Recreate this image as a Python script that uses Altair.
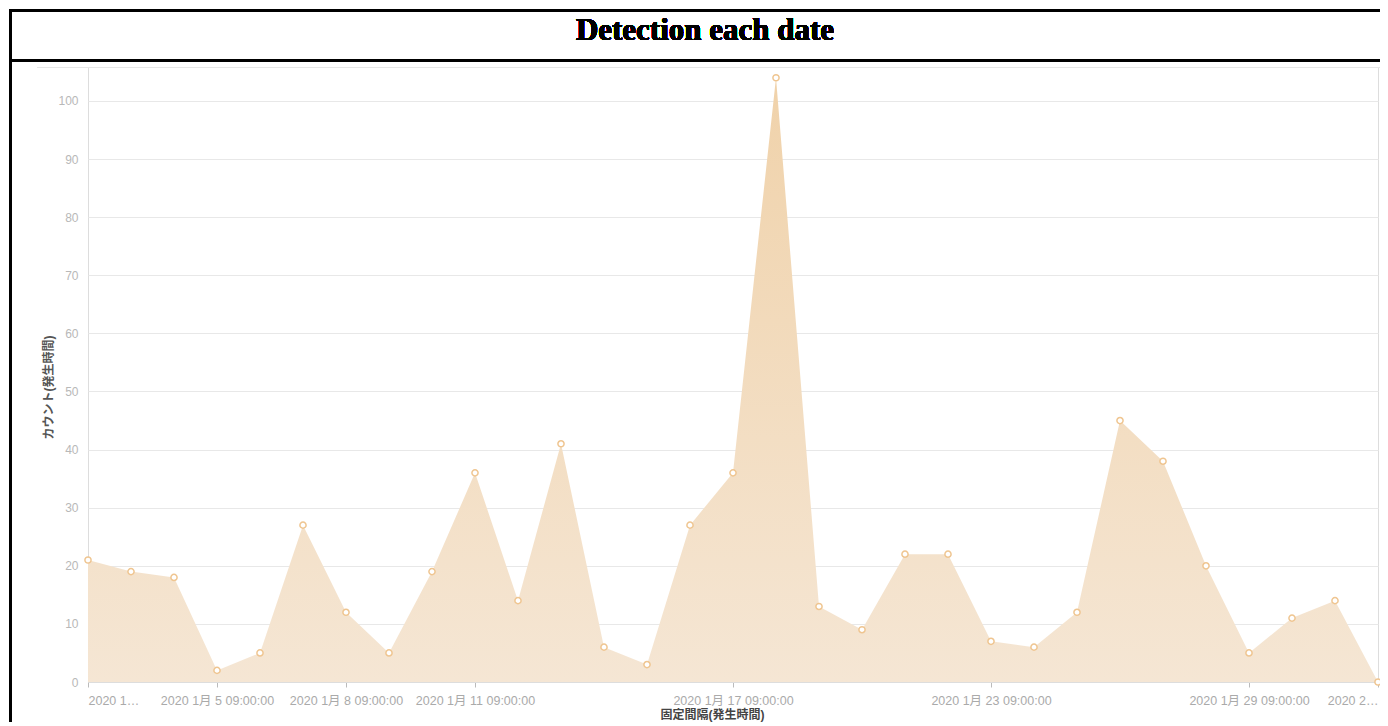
import altair as alt
import pandas as pd

# ---- data ----
dates = [
    "2020-01-02", "2020-01-03", "2020-01-04", "2020-01-05", "2020-01-06",
    "2020-01-07", "2020-01-08", "2020-01-09", "2020-01-10", "2020-01-11",
    "2020-01-12", "2020-01-13", "2020-01-14", "2020-01-15", "2020-01-16",
    "2020-01-17", "2020-01-18", "2020-01-19", "2020-01-20", "2020-01-21",
    "2020-01-22", "2020-01-23", "2020-01-24", "2020-01-25", "2020-01-26",
    "2020-01-27", "2020-01-28", "2020-01-29", "2020-01-30", "2020-01-31",
    "2020-02-01",
]
counts = [21, 19, 18, 2, 5, 27, 12, 5, 19, 36,
          14, 41, 6, 3, 27, 36, 104, 13, 9, 22,
          22, 7, 6, 12, 45, 38, 20, 5, 11, 14, 0]

tick_dates = ["2020-01-02", "2020-01-05", "2020-01-08", "2020-01-11",
              "2020-01-17", "2020-01-23", "2020-01-29", "2020-02-01"]
tick_labels = ["2020 1…", "2020 1月 5 09:00:00", "2020 1月 8 09:00:00",
               "2020 1月 11 09:00:00", "2020 1月 17 09:00:00",
               "2020 1月 23 09:00:00", "2020 1月 29 09:00:00", "2020 2…"]
y_ticks = [0, 10, 20, 30, 40, 50, 60, 70, 80, 90, 100]

title_text = "Detection each date"
x_title = "固定間隔(発生時間)"
y_title = "カウント(発生時間)"

df = pd.DataFrame({"date": [d + "T09:00:00Z" for d in dates], "count": counts})

tick_ms = [int(pd.Timestamp(d + "T09:00:00Z").value // 10**6) for d in tick_dates]
tick_vals = [alt.DateTime(year=int(d[:4]), month=int(d[5:7]), date=int(d[8:10]),
                          hours=9, utc=True) for d in tick_dates]
label_expr = ("[" + ",".join("'" + l + "'" for l in tick_labels) + "][indexof(["
              + ",".join(str(m) for m in tick_ms) + "], time(datum.value))]")

FONT = "Liberation Sans, Noto Sans CJK JP, sans-serif"

x_enc = alt.X(
    "date:T",
    scale=alt.Scale(type="utc", nice=False),
    axis=alt.Axis(
        values=tick_vals, labelExpr=label_expr, labelFlush=True,
        labelOverlap=False, grid=False,
        domainColor="#dddddd", tickColor="#bbbbbb", tickSize=5,
        labelColor="#aaaaaa", labelFontSize=12.5, labelFont=FONT, labelPadding=7,
        title=x_title, titleFont=FONT, titleFontSize=12, titleFontWeight="bold",
        titleColor="#444444", titleX=624, titleY=32, titleAlign="center",
        titleBaseline="middle",
    ),
)
y_enc = alt.Y(
    "count:Q",
    scale=alt.Scale(domain=[0, 105.85], nice=False),
    axis=alt.Axis(
        values=y_ticks, grid=True, gridColor="#e8e8e8", domain=False, ticks=False,
        labelColor="#b8b8b8", labelFontSize=12, labelFont=FONT, labelPadding=10,
        title=y_title, titleFont=FONT, titleFontSize=12, titleFontWeight="bold",
        titleColor="#555555", titleAngle=270, titleX=-40, titleY=320,
        titleAlign="center", titleBaseline="middle",
    ),
)

base = alt.Chart(df)

area = base.mark_area(
    color=alt.Gradient(
        gradient="linear",
        stops=[alt.GradientStop(color="#f5e6d4", offset=0),
               alt.GradientStop(color="#f0d2aa", offset=1)],
        x1=1, x2=1, y1=1, y2=0,
    ),
    opacity=1,
).encode(x=x_enc, y=y_enc)

points = base.mark_point(
    shape="circle", fill="white", fillOpacity=1, stroke="#efc590",
    strokeWidth=1.5, size=38, opacity=1,
).encode(x="date:T", y="count:Q")

top_rule = alt.Chart(df).mark_rule(color="#e6e6e6", strokeWidth=1).encode(
    x=alt.value(-51), x2=alt.value(1292), y=alt.value(0.5))

border_left = alt.Chart(df).mark_rule(color="black", strokeWidth=2).encode(
    x=alt.value(-77.5), y=alt.value(-57.5), y2=alt.value(670))
border_top = alt.Chart(df).mark_rule(color="black", strokeWidth=2).encode(
    x=alt.value(-78.5), x2=alt.value(1300), y=alt.value(-56.25))
border_title = alt.Chart(df).mark_rule(color="black", strokeWidth=2).encode(
    x=alt.value(-78.5), x2=alt.value(1300), y=alt.value(-6.75))

title = alt.Chart(df).mark_text(
    font="Liberation Serif", fontSize=31, fontWeight="bold", color="black",
    align="center", baseline="middle",
).encode(x=alt.value(617), y=alt.value(-36), text=alt.value(title_text))

chart = alt.layer(
    top_rule, area, points, border_left, border_top, border_title, title
).properties(
    width=1290, height=615,
    autosize=alt.AutoSizeParams(type="none"),
    padding={"left": 80, "top": 59, "right": 2, "bottom": 40},
).configure_view(stroke=None).configure(background="white")

chart.save("out.html", embed_options={"renderer": "svg", "actions": False})
